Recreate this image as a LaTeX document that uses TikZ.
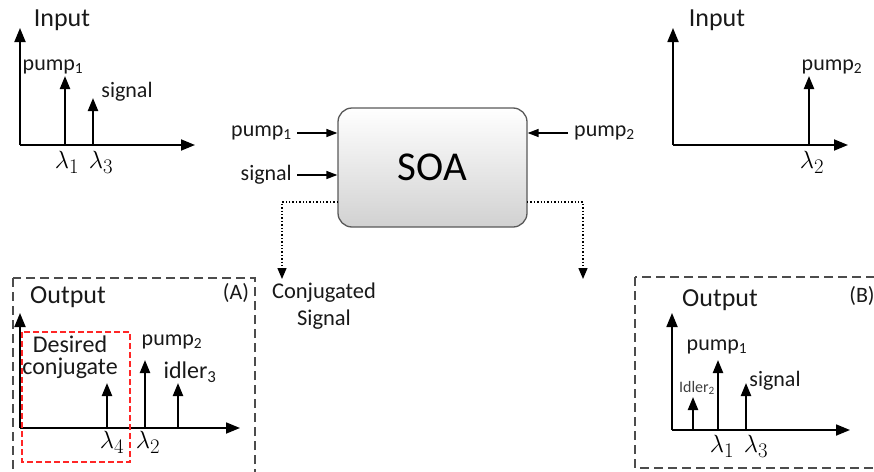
\documentclass[tikz,border=0pt]{standalone}
\usepackage{fontspec}
\setmainfont{Carlito}
\usetikzlibrary{arrows.meta}
\begin{document}
\begin{tikzpicture}[x=1pt,y=-1pt,
 axis/.style={line width=1.8pt,-{Triangle[length=14pt,width=11pt]}},
 spike/.style={line width=2.2pt,-{Triangle[length=13pt,width=10pt]}},
 feed/.style={line width=1.5pt,-{Triangle[length=11pt,width=8pt]}},
 dotarrow/.style={line width=1.4pt,dotted,-{Triangle[length=11pt,width=9pt]}},
 panelbox/.style={line width=1.1pt,draw=black!70,dash pattern=on 9pt off 5pt},
 redbox/.style={line width=1.2pt,draw=red!85,dash pattern=on 6pt off 3pt},
 lbl/.style={font=\fontsize{22}{24}\selectfont,inner sep=0pt,text=black!90},
 ttl/.style={font=\fontsize{26}{28}\selectfont,inner sep=0pt,text=black!90},
 lam/.style={font=\fontsize{28}{30}\selectfont,inner sep=0pt},
 ]
\clip (0,0) rectangle (874,471);
\useasboundingbox (0,0) rectangle (874,471);
% ---------- top-left input panel
\coordinate (o1) at (20,145);
\coordinate (o1y) at (20,28);
\coordinate (o1x) at (195,145);
\draw[axis] (o1) -- (o1y);
\draw[axis] (o1) -- (o1x);
\coordinate (s1b) at (65,145); \coordinate (s1t) at (65,76);
\coordinate (s2b) at (93,145); \coordinate (s2t) at (93,98);
\draw[spike] (s1b) -- (s1t);
\draw[spike] (s2b) -- (s2t);
\node[ttl] (in1) at (62,20) {Input};
\node[lbl] (tp1) at (53,67) {pump\textsubscript{1}};
\node[lbl] (ts1) at (127,92) {signal};
\node[lam] (tl1) at (67,162) {$\lambda_1$};
\node[lam] (tl3) at (101,162) {$\lambda_3$};
% ---------- top-right input panel
\coordinate (o2) at (673,145);
\coordinate (o2y) at (673,28);
\coordinate (o2x) at (848,145);
\draw[axis] (o2) -- (o2y);
\draw[axis] (o2) -- (o2x);
\coordinate (s3b) at (809,145); \coordinate (s3t) at (809,76);
\draw[spike] (s3b) -- (s3t);
\node[ttl] (in2) at (717,20) {Input};
\node[lbl] (tp2) at (832,67) {pump\textsubscript{2}};
\node[lam] (tl2) at (812,162) {$\lambda_2$};
% ---------- SOA
\node[draw=black!65,line width=1.3pt,rounded corners=14pt,top color=white,bottom color=black!18,
      minimum width=189pt,minimum height=119pt,font=\fontsize{41}{44}\selectfont] (soa) at (432.5,167.5) {SOA};
\coordinate (a1) at (297,133);
\coordinate (a2) at (297,175);
\coordinate (a3) at (568,133);
\draw[feed] (a1) -- (a1 -| soa.west);
\draw[feed] (a2) -- (a2 -| soa.west);
\draw[feed] (a3) -- (a3 -| soa.east);
\node[lbl,anchor=east] (fp1) at (292,133) {pump\textsubscript{1}};
\node[lbl,anchor=east] (fs1) at (292,175) {signal};
\node[lbl,anchor=west] (fp2) at (574,133) {pump\textsubscript{2}};
\coordinate (d1s) at (338,202);
\coordinate (d1e) at (282,279);
\coordinate (d2s) at (527,202);
\coordinate (d2e) at (583,279);
\draw[dotarrow] (d1s) -| (d1e);
\draw[dotarrow] (d2s) -| (d2e);
\node[lbl,align=center,font=\fontsize{22.5}{27}\selectfont] (conj) at (324,306) {Conjugated\\Signal};
% ---------- Output (A)
\draw[panelbox] (13,278) rectangle (255,495);
\coordinate (oa) at (20,428);
\coordinate (oay) at (20,313);
\coordinate (oax) at (240,428);
\draw[axis] (oa) -- (oay);
\draw[axis] (oa) -- (oax);
\draw[redbox] (22,332) rectangle (130,462);
\coordinate (s4b) at (107,428); \coordinate (s4t) at (107,383);
\coordinate (s5b) at (145,428); \coordinate (s5t) at (145,360);
\coordinate (s6b) at (178,428); \coordinate (s6t) at (178,383);
\draw[spike] (s4b) -- (s4t);
\draw[spike] (s5b) -- (s5t);
\draw[spike] (s6b) -- (s6t);
\node[ttl] (outa) at (68,297) {Output};
\node[lbl] (la) at (236,293) {(A)};
\node[lbl,align=center,font=\fontsize{24}{22}\selectfont] (des) at (70,357) {Desired\\conjugate};
\node[lbl] (ap2) at (172,342) {pump\textsubscript{2}};
\node[lbl,font=\fontsize{24}{26}\selectfont] (aid) at (190,372) {idler\textsubscript{3}};
\node[lam] (al4) at (112,442) {$\lambda_4$};
\node[lam] (al2) at (148,442) {$\lambda_2$};
% ---------- Output (B)
\draw[panelbox] (635,277) rectangle (900,468);
\coordinate (ob) at (672,430);
\coordinate (oby) at (672,313);
\coordinate (obx) at (850,430);
\draw[axis] (ob) -- (oby);
\draw[axis] (ob) -- (obx);
\coordinate (s7b) at (693,430); \coordinate (s7t) at (693,397);
\coordinate (s8b) at (718,430); \coordinate (s8t) at (718,360);
\coordinate (s9b) at (746,430); \coordinate (s9t) at (746,383);
\draw[spike] (s7b) -- (s7t);
\draw[spike] (s8b) -- (s8t);
\draw[spike] (s9b) -- (s9t);
\node[ttl] (outb) at (720,300) {Output};
\node[lbl] (lb) at (862,296) {(B)};
\node[lbl] (bp1) at (717,347) {pump\textsubscript{1}};
\node[lbl,font=\fontsize{16}{18}\selectfont,text=black!75] (bid) at (697,388) {Idler\textsubscript{2}};
\node[lbl] (bs) at (775,381) {signal};
\node[lam] (bl1) at (722,446) {$\lambda_1$};
\node[lam] (bl3) at (756,446) {$\lambda_3$};
\end{tikzpicture}
\end{document}
